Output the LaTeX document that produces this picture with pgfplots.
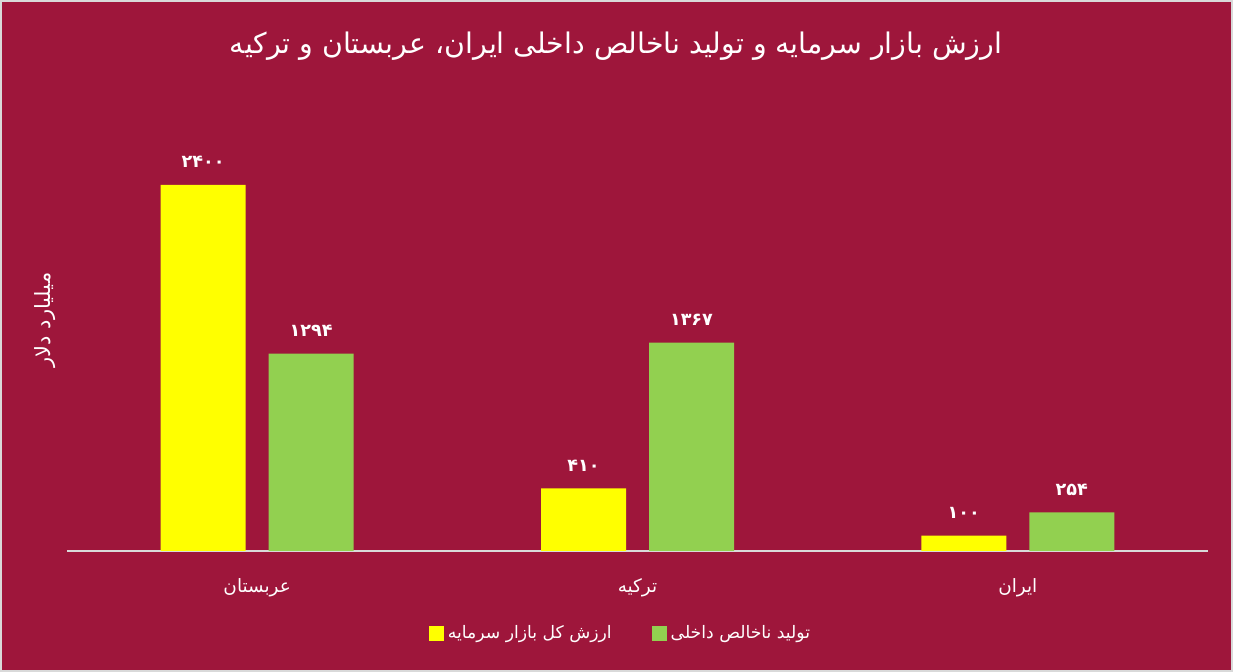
\documentclass[border=0pt]{standalone}
\usepackage{fontspec}
\usepackage{pgfplots}
\pgfplotsset{compat=1.18}
\setmainfont{DejaVu Sans}
\newfontfamily\arabicfont[Script=Arabic]{DejaVu Sans}
\TeXXeTstate=1
\definecolor{bg}{HTML}{9E163B}
\definecolor{frame}{HTML}{D9D9D9}
\definecolor{capyel}{HTML}{FFFF00}
\definecolor{gdpgrn}{HTML}{92D050}

\begin{document}
\begin{tikzpicture}
\fill[bg] (0,0) rectangle (616.5pt,336pt);
\useasboundingbox (0,0) rectangle (616.5pt,336pt);
\draw[frame, line width=1pt] (0.5pt,0.5pt) rectangle (616pt,335.5pt);

\node[text=white, font=\arabicfont\fontsize{14.2}{16}\selectfont] at (308pt,313pt)
  {\beginR ارزش بازار سرمایه و تولید ناخالص داخلی ایران، عربستان و ترکیه\endR};
\node[text=white, rotate=90, font=\arabicfont\fontsize{10.5}{12}\selectfont] at (22.5pt,176pt)
  {\beginR میلیارد دلار\endR};

\begin{axis}[
  at={(33.5pt,60.5pt)}, anchor=south west,
  scale only axis,
  width=570.5pt, height=228.75pt,
  xmin=-0.5, xmax=2.5,
  ymin=0, ymax=3000,
  axis x line=bottom,
  axis y line=none,
  x axis line style={frame, line width=1pt, -},
  xtick={0,1,2},
  xticklabels={{\beginR عربستان\endR},{\beginR ترکیه\endR},{\beginR ایران\endR}},
  major tick length=0pt,
  xticklabel style={text=white, font=\arabicfont\fontsize{9.2}{11}\selectfont, yshift=-10pt},
  ybar=11.5pt,
  bar width=42.5pt,
  point meta=explicit symbolic,
  nodes near coords,
  every node near coord/.append style={text=white, yshift=5pt,
    font=\arabicfont\bfseries\fontsize{8.8}{10}\selectfont},
  legend columns=2,
  area legend,
  legend style={at={(0.486,-0.181)}, anchor=center, draw=none, fill=none,
    text=white, font=\arabicfont\fontsize{8.6}{10}\selectfont,
    /tikz/every even column/.append style={column sep=18pt}},
  legend image code/.code={\fill[#1] (0pt,-3.75pt) rectangle (7.5pt,3.75pt);},
]
\addplot[fill=capyel, draw=none] table[x=x, y=y, meta=lab] {
x y lab
0 2400 ۲۴۰۰
1 410 ۴۱۰
2 100 ۱۰۰
};
\addplot[fill=gdpgrn, draw=none] table[x=x, y=y, meta=lab] {
x y lab
0 1294 ۱۲۹۴
1 1367 ۱۳۶۷
2 254 ۲۵۴
};
\legend{{\beginR ارزش کل بازار سرمایه\endR},{\beginR تولید ناخالص داخلی\endR}}
\end{axis}
\end{tikzpicture}
\end{document}
